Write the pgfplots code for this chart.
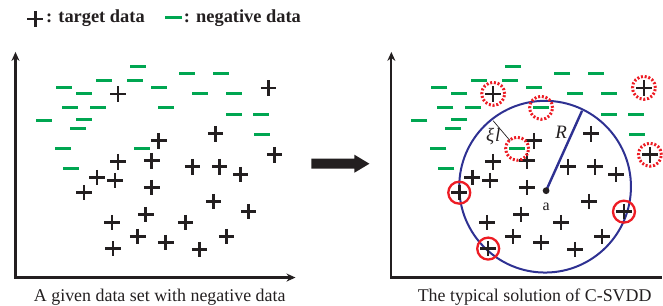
\documentclass[border=0pt]{standalone}
\usepackage{fontspec}
\setmainfont{Liberation Serif}
\usepackage{pgfplots}
\pgfplotsset{compat=1.18}
\usetikzlibrary{arrows.meta}
\definecolor{ink}{HTML}{231F20}
\definecolor{neg}{HTML}{00A651}
\definecolor{cblue}{HTML}{2E3192}
\definecolor{cred}{HTML}{ED1C24}
\begin{document}
\begin{tikzpicture}
\begin{axis}[width=663bp,height=305bp,scale only axis,
  xmin=0,xmax=663,ymin=0,ymax=305,y dir=reverse,
  axis lines=none,clip=false]
\path (axis cs:0,0) rectangle (axis cs:663,305);
% legend
\addplot[only marks,mark=+,mark size=8bp,mark options={ink,line width=2.7bp}] coordinates {(35.5,19)};
\addplot[only marks,mark=-,mark size=8.5bp,mark options={neg,line width=3bp}] coordinates {(174,18)};
\node[anchor=west,inner sep=0pt,text=ink,font=\fontsize{18.5}{18.5}\selectfont\bfseries] at (axis cs:46,18) {: target data};
\node[anchor=west,inner sep=0pt,text=ink,font=\fontsize{18.5}{18.5}\selectfont\bfseries] at (axis cs:184,18) {: negative data};
% axes
\draw[ink,line width=2.2bp,-{Stealth[length=9bp,width=8bp]}] (axis cs:15.5,278) -- (axis cs:15.5,52);
\draw[ink,line width=2.2bp,-{Stealth[length=9bp,width=8bp]}] (axis cs:14.5,278) -- (axis cs:296,278);
\draw[ink,line width=2.2bp,-{Stealth[length=9bp,width=8bp]}] (axis cs:392,278) -- (axis cs:392,52);
\draw[ink,line width=2.2bp] (axis cs:391,278) -- (axis cs:663,278);
% big arrow
\fill[ink] (axis cs:312,159) -- (axis cs:355,159) -- (axis cs:355,155) -- (axis cs:370,164) -- (axis cs:355,173) -- (axis cs:355,169) -- (axis cs:312,169) -- cycle;
% blue circle
\draw[cblue,line width=2bp] (axis cs:546,187) circle [radius=86];
\draw[cblue,line width=2.4bp] (axis cs:547,191) -- (axis cs:583,111);
\draw[ink,line width=0.7bp] (axis cs:494,121) -- (axis cs:511,141);
\fill[ink] (axis cs:547,191) circle [radius=3.4];
\node[text=ink,font=\fontsize{16}{16}\selectfont] at (axis cs:547,207) {a};
\node[text=ink,font=\fontsize{19}{19}\selectfont\itshape] at (axis cs:562,133) {R};
\node[text=ink,font=\fontsize{19}{19}\selectfont\itshape] at (axis cs:494,137) {ξ\kern1pt l};
% left: negative data
\addplot[only marks,mark=-,mark size=8bp,mark options={neg,line width=2.9bp}] coordinates {
(138,67) (104,81) (135,81) (64,88) (84,94) (70,108) (98,108) (44,121) (84,120) (78,129)
(63,149) (142,149) (71,169) (187,74) (221,74) (159,88) (200,94) (234,94) (166,108)
(234,115) (261,115) (262,135)};
% left: target data
\addplot[only marks,mark=+,mark size=7.8bp,mark options={ink,line width=2.6bp}] coordinates {
(118,94) (269,88) (216,134) (159,141) (118,162) (152,161) (275,155) (193,167) (220,167)
(241,175) (97,178) (115,181) (84,193) (152,188) (214,202) (249,212) (146,215) (112,223)
(186,223) (138,237) (227,237) (166,243) (113,249) (200,250)};
% right: negative data
\addplot[only marks,mark=-,mark size=8bp,mark options={neg,line width=2.9bp}] coordinates {
(514,67) (480,81) (511,81) (440,88) (460,94) (446,108) (474,108) (420,121) (460,120) (454,129)
(439,149) (518,149) (447,169) (563,74) (597,74) (535,88) (576,94) (610,94) (542,108)
(610,115) (637,115) (638,135)};
% right: target data
\addplot[only marks,mark=+,mark size=7.8bp,mark options={ink,line width=2.6bp}] coordinates {
(494,94) (645,88) (592,134) (535,141) (494,162) (528,161) (651,155) (569,167) (596,167)
(617,175) (473,178) (491,181) (460,193) (528,188) (590,202) (625,212) (522,215) (488,223)
(562,223) (514,237) (603,237) (542,243) (489,249) (576,250)};
% solid red circles
\addplot[only marks,mark=o,mark size=11bp,mark options={cred,line width=2.3bp}] coordinates {
(460,193) (489,249) (625,212)};
% dotted red circles
\addplot[only marks,mark=o,mark size=11.5bp,mark options={cred,line width=3bp,dash pattern=on 2bp off 1.8bp}] coordinates {
(494,94) (645,88) (651,155) (542,108) (518,149)};
% captions
\node[anchor=base,inner sep=0pt,text=ink,font=\fontsize{18}{18}\selectfont] at (axis cs:160,302) {A given data set with negative data};
\node[anchor=base,inner sep=0pt,text=ink,font=\fontsize{18}{18}\selectfont] at (axis cs:535.5,302) {The typical solution of C-SVDD};
\end{axis}
\end{tikzpicture}
\end{document}
